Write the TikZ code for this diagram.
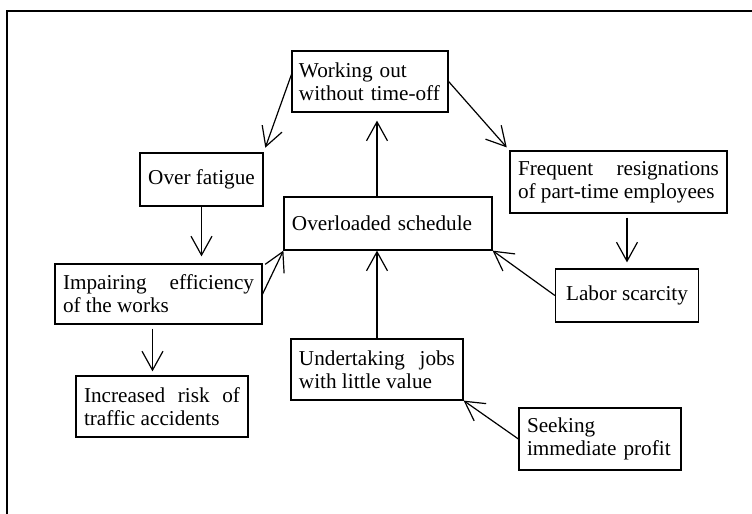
\documentclass[tikz,border=0pt]{standalone}
\usepackage{fontspec}
\setmainfont{Liberation Serif}
\usetikzlibrary{arrows.meta,positioning}
\hyphenpenalty=10000
\exhyphenpenalty=10000
\tikzset{
  font=\fontsize{10.6}{11.5}\selectfont,
  box/.style={draw, line width=0.6pt, inner xsep=4pt, inner ysep=2pt, minimum height=#1},
  box/.default=30.5pt,
  flow/.style={-{Straight Barb[length=9.5pt,width=10.5pt]}, line width=0.6pt},
}
\begin{document}
\begin{tikzpicture}[x=0.5pt, y=-0.5pt]
\useasboundingbox (0,0) rectangle (752,514);
\draw[line width=0.9pt] (7,514) -- (7,11) -- (752,11);
\node[box, text width=71pt, inner xsep=3.5pt, align=left] (work) at (370,81.5){Working out\\\mbox{without time-off}};
\node[box=26.5pt, minimum width=61.5pt, align=center] (fat) at (201.5,179.5){Over fatigue};
\node[box=26.5pt, text width=96pt, align=left] (sched) at (388,223.5){Overloaded schedule};
\node[box=31pt, text width=100.5pt, align=justify] (freq) at (618.5,182){Frequent resignations\linebreak of part-time employees};
\node[box=30pt, text width=95.5pt, align=justify] (imp) at (158.5,294){Impairing efficiency\linebreak of the works};
\node[box=26.5pt, minimum width=71.5pt, align=center] (lab) at (627,295.5){Labor scarcity};
\node[box, text width=78pt, align=justify] (risk) at (162,406.5){Increased risk of\linebreak traffic accidents};
\node[box, text width=78pt, align=justify] (job) at (377,369.5){Undertaking jobs\linebreak with little value};
\node[box=31pt, text width=73pt, align=left] (seek) at (600,439){Seeking\\immediate profit};
\draw[flow, shorten >=2.5pt] (work.175) -- (fat.north east);
\draw[flow, shorten >=2pt] (work.east) -- (freq.north west);
\draw[flow, shorten >=4pt] (job.north |- sched.north) -- (job.north |- work.south);
\draw[flow, shorten >=3.5pt] (fat.south) -- (fat.south |- imp.north);
\draw[flow] (imp.east) -- (sched.south west);
\draw[flow, shorten <=2pt, shorten >=2pt] ([xshift=-3pt]imp.south) -- ([xshift=-3pt]imp.south |- risk.north);
\draw[flow, shorten <=2pt, shorten >=3pt] (lab.north |- freq.south) -- (lab.north);
\draw[flow] (lab.west) -- (sched.south east);
\draw[flow] (job.north) -- (job.north |- sched.south);
\draw[flow] (seek.west) -- (job.south east);
\end{tikzpicture}
\end{document}
